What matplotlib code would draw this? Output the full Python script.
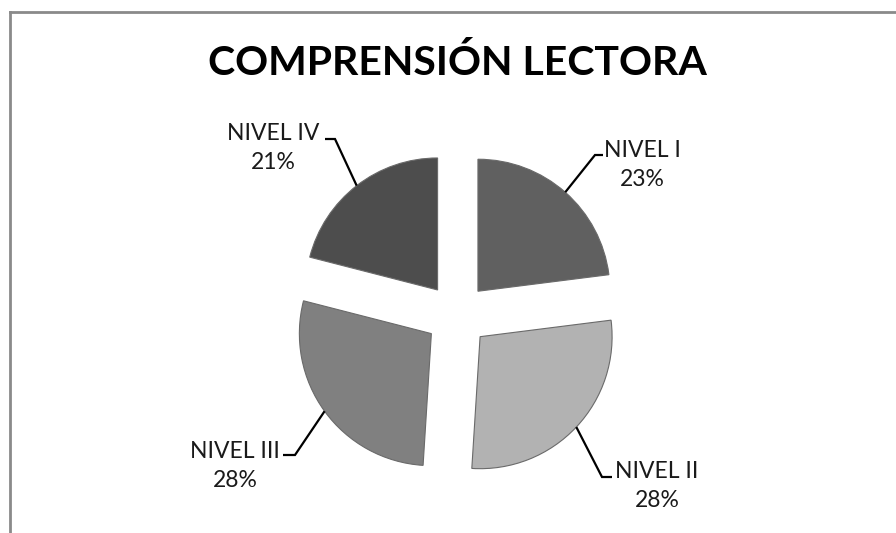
import numpy as np
import matplotlib
matplotlib.use("Agg")
import matplotlib.pyplot as plt
from matplotlib.lines import Line2D

# ---- data ----
categories = ["NIVEL I", "NIVEL II", "NIVEL III", "NIVEL IV"]
percent = [23, 28, 28, 21]
colors = ["#606060", "#b2b2b2", "#808080", "#4d4d4d"]
title = "COMPRENSIÓN LECTORA"

# ---- layout (pixels, origin top-left) ----
W, H = 896, 533
R_PX = 132.0
CENTER_PX = (457, 315)
EXPLODE = 0.24
label_pos_px = [(642, 165), (657, 486), (235, 466), (273, 148)]
elbow_px = [(595, 155), (602, 477), (295, 455), (335, 139)]
end_px = [(603, 155), (612, 477), (283, 455), (325, 139)]

plt.rcParams['font.family'] = ['Lato', 'DejaVu Sans']

fig = plt.figure(figsize=(W / 100, H / 100), dpi=100)
ax = fig.add_axes([0, 0, 1, 1])


def to_data(p):
    x, y = p
    return ((x - CENTER_PX[0]) / R_PX, (H - y - (H - CENTER_PX[1])) / R_PX)


wedges, _ = ax.pie(percent, colors=colors, startangle=90, counterclock=False,
                   explode=[EXPLODE] * len(percent), radius=1.0, center=(0, 0),
                   frame=True,
                   wedgeprops=dict(edgecolor="#6a6a6a", linewidth=0.8))

ax.set_xlim(-CENTER_PX[0] / R_PX, (W - CENTER_PX[0]) / R_PX)
ax.set_ylim(-(H - CENTER_PX[1]) / R_PX, CENTER_PX[1] / R_PX)
ax.set_aspect('equal', adjustable='box')
ax.set_axis_off()

for i, w in enumerate(wedges):
    th = np.deg2rad(0.5 * (w.theta1 + w.theta2))
    cx, cy = w.center
    ax_, ay_ = cx + np.cos(th) * w.r, cy + np.sin(th) * w.r
    ex, ey = to_data(elbow_px[i])
    nx, ny = to_data(end_px[i])
    ax.plot([ax_, ex, nx], [ay_, ey, ny], color="black", lw=1.6,
            solid_capstyle='butt', solid_joinstyle='miter', zorder=3)
    lx, ly = to_data(label_pos_px[i])
    ax.text(lx, ly, f"{categories[i]}\n{percent[i]}%", ha="center", va="center",
            fontsize=16.5, color="#1a1a1a", linespacing=1.5)

fig.text(457 / W, 1 - 63 / H, title, ha="center", va="center",
         fontsize=29.5, fontweight="bold", color="black")

# chart frame
fig.add_artist(Line2D([10 / W, 10 / W], [0, 1 - 12 / H], transform=fig.transFigure,
                      color="#8a8a8a", lw=2))
fig.add_artist(Line2D([10 / W, 1], [1 - 12 / H, 1 - 12 / H], transform=fig.transFigure,
                      color="#8a8a8a", lw=2))

fig.savefig("out.png", dpi=100, facecolor="white")
